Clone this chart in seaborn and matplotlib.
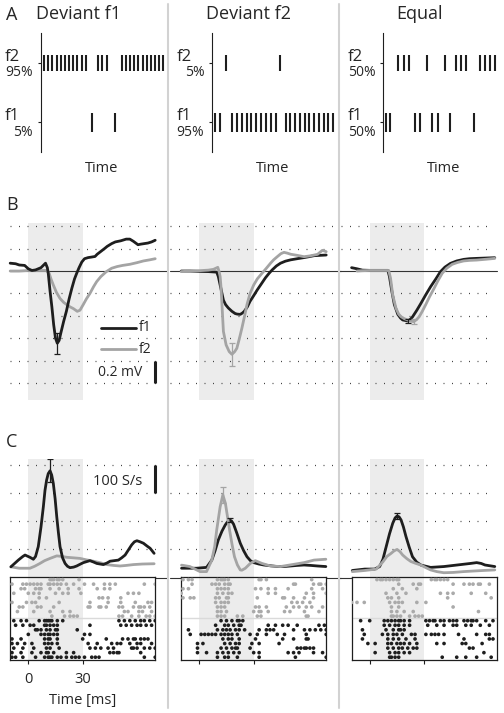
import matplotlib
matplotlib.use("Agg")
import matplotlib.pyplot as plt
import pandas as pd
import seaborn as sns

sns.set_style("white")
plt.rcParams['font.family'] = ['Open Sans', 'DejaVu Sans']

BLACK = '#1e1e1e'
GRAY = '#a4a4a4'
SHADE = '#ececec'

conditions = ['Deviant f1', 'Deviant f2', 'Equal']
f2_share = ['95%', '5%', '50%']
f1_share = ['5%', '95%', '50%']

# A: stimulus onsets in each sequence (arbitrary time units)
stim_f2 = [
    [3, 7, 11, 16, 20, 24, 28, 32, 36, 41, 45, 57, 61, 66,
     81, 85, 89, 93, 97, 102, 106, 110, 114, 118, 122],
    [14, 68],
    [15, 21, 26, 44, 62, 73, 78, 83, 97, 102, 107, 112],
]
stim_f1 = [
    [51, 74],
    [3, 8, 20, 25, 30, 35, 39, 44, 49, 54, 59, 64,
     74, 78, 83, 88, 93, 97, 102, 107, 112, 116, 121],
    [3, 7, 32, 37, 49, 55, 67, 91],
]

# B: evoked LFP, (time [ms], mV)
lfp_f1 = [
    [(-10, 0.07), (-7, 0.065), (-5, 0.054), (-2, 0.05), (0, 0.02), (2, 0.005), (4, 0.01),
     (7, 0.03), (9.5, 0.07), (10.5, 0.03), (11, -0.02), (12, -0.18), (13, -0.32), (14, -0.48),
     (15, -0.6), (16, -0.645), (17, -0.62), (18, -0.55), (19.5, -0.45), (21, -0.36),
     (22.5, -0.25), (24, -0.155), (25.5, -0.07), (26.7, -0.02), (28, 0.03), (29.5, 0.08),
     (31, 0.11), (33, 0.12), (35, 0.125), (36.8, 0.13), (38, 0.15), (40, 0.175), (42, 0.2),
     (43.5, 0.22), (46, 0.245), (48, 0.26), (51, 0.27), (54, 0.285), (56, 0.285),
     (58, 0.265), (60.5, 0.235), (62, 0.24), (64, 0.245), (66, 0.25), (68, 0.26), (70, 0.275)],
    [(-10, 0), (-5, 0), (0, -0.003), (5, -0.005), (9.6, -0.01), (10.5, -0.05), (11.5, -0.125),
     (12.5, -0.2), (13.3, -0.26), (14.5, -0.3), (16, -0.33), (18, -0.36), (19.8, -0.38),
     (21, -0.385), (22.6, -0.387), (23.8, -0.375), (24.8, -0.36), (26.5, -0.32), (28, -0.27),
     (30, -0.22), (31.9, -0.17), (34, -0.12), (36.5, -0.06), (38.5, -0.02), (40.2, 0.01),
     (42.5, 0.045), (44.8, 0.07), (47.5, 0.088), (50.4, 0.1), (54, 0.11), (57.8, 0.12),
     (60.5, 0.128), (63.3, 0.137), (66.5, 0.14), (70, 0.143)],
    [(-10, 0.03), (-7, 0.02), (-4, 0.008), (0, 0.006), (5, 0.006), (10, 0.006), (10.9, -0.05),
     (12.2, -0.18), (13.6, -0.3), (15.5, -0.387), (17, -0.42), (18.2, -0.437), (20.9, -0.446),
     (22.5, -0.43), (23.6, -0.41), (26, -0.35), (28.2, -0.29), (31, -0.21), (33.6, -0.14),
     (36.5, -0.07), (39, -0.006), (41.5, 0.035), (44.5, 0.068), (48, 0.09), (51.8, 0.104),
     (55, 0.11), (59, 0.113), (64, 0.116), (69, 0.119)],
]
lfp_f2 = [
    [(-10, 0), (-5, 0), (0, 0.005), (5, 0.005), (10, 0.005), (11.5, -0.02), (12.5, -0.07),
     (13.8, -0.125), (15.5, -0.19), (17.5, -0.245), (19.5, -0.28), (21.2, -0.3), (23, -0.32),
     (24.8, -0.335), (27, -0.36), (28.5, -0.35), (30.3, -0.3), (32, -0.25), (34, -0.2),
     (36, -0.14), (37.7, -0.095), (40, -0.05), (43, -0.006), (46, 0.025), (49, 0.04),
     (52, 0.05), (56, 0.06), (60, 0.075), (63.5, 0.09), (67, 0.1), (70, 0.11)],
    [(-10, -0.005), (-5, 0), (0, 0.003), (5, 0.008), (7.8, 0.015), (10.2, 0.033), (11, -0.01),
     (11.5, -0.05), (12, -0.15), (12.4, -0.27), (13.3, -0.54), (14.8, -0.66), (16.5, -0.72),
     (18, -0.744), (19.5, -0.72), (20.7, -0.69), (22, -0.61), (23.5, -0.51), (25, -0.4),
     (26.3, -0.3), (28, -0.2), (30, -0.125), (32, -0.07), (34.6, -0.02), (37, 0.025),
     (39.3, 0.07), (41, 0.1), (43, 0.128), (45, 0.155), (46.7, 0.167), (48.5, 0.16),
     (50.4, 0.15), (54, 0.14), (57.8, 0.128), (61, 0.135), (65.2, 0.149), (67.9, 0.185),
     (70, 0.173)],
    [(-7, 0), (-4, 0.003), (0, 0.005), (5, 0.005), (10.5, 0.005), (11.5, -0.065), (12.7, -0.214),
     (14.5, -0.333), (16, -0.385), (17.3, -0.408), (19, -0.425), (20.9, -0.437), (22.5, -0.447),
     (24.2, -0.452), (25.8, -0.435), (27.3, -0.408), (29, -0.36), (30.9, -0.3), (33, -0.23),
     (35.5, -0.155), (37.7, -0.085), (40, -0.02), (42.5, 0.025), (45.5, 0.06), (48.5, 0.077),
     (51.8, 0.09), (55, 0.095), (59, 0.098), (64, 0.105), (69, 0.113)],
]
lfp_sem_f1 = [0.095, None, 0.02]
lfp_sem_f2 = [None, 0.1, 0.02]

# C: firing rate, (time [ms], spikes/s)
rate_f1 = [
    [(-9.6, 38), (-5.5, 62), (-3, 75), (-1.8, 80), (0.9, 72), (2.8, 65), (4, 75), (5.5, 110),
     (7, 180), (8.3, 252), (9.2, 310), (10.1, 347), (11, 370), (12, 380), (12.9, 365),
     (13.8, 335), (14.8, 280), (15.7, 216), (16.6, 160), (17.5, 110), (18.9, 70), (20.3, 50),
     (21.6, 40), (23, 35), (25, 37), (26.7, 41), (28.5, 47), (30.4, 53), (34, 60), (36, 55),
     (37.8, 50), (41.4, 46), (43.5, 52), (45.1, 58), (49.7, 62), (51.5, 70), (53.4, 80),
     (55.2, 98), (57, 116), (58.5, 127), (59.9, 131), (61.7, 127), (63.5, 122), (65.3, 113),
     (67.2, 104), (69.4, 86)],
    [(-9.8, 33), (-1.5, 33), (4, 36), (6.9, 62), (8.7, 95), (10.5, 134), (12.5, 165),
     (14.3, 187), (15.5, 198), (16.7, 205), (17.8, 201), (18.9, 190), (20.7, 158), (22.6, 122),
     (24.5, 95), (26.3, 74), (28.2, 60), (30, 53), (32.8, 48), (35.6, 44.5), (39, 42), (43, 39),
     (46.7, 39), (50.4, 41), (54, 43), (57.8, 44.5), (61.5, 43), (65.2, 41), (69.8, 39)],
    [(-9.6, 25), (-2.7, 30), (2.7, 30), (5.5, 39), (7.3, 65), (9.1, 110), (10.9, 155),
     (12.7, 193), (14, 212), (15.1, 219), (16.2, 216), (17.3, 205), (18.6, 180), (20, 146),
     (21.8, 108), (23.6, 74), (25.9, 55), (28.2, 44.5), (33.6, 36), (40.9, 39), (48.2, 44.5),
     (55.5, 50), (59, 53), (61.5, 50), (63.6, 44.5), (69, 39)],
]
rate_f2 = [
    [(-9.6, 38), (-5, 33), (0.9, 33), (3.5, 40), (6.4, 50), (9, 60), (12, 68), (15.7, 77),
     (18.5, 75), (21.2, 72), (25, 70), (28.5, 68), (32, 63), (35.9, 58), (40, 52), (43.3, 46),
     (47, 43), (50.6, 41), (54, 43), (58, 46), (63, 48), (69.4, 49)],
    [(-9.8, 44), (-5.2, 39), (0.4, 21), (4, 21), (6.9, 62), (8.5, 110), (9.6, 169), (11.5, 252),
     (13, 294), (14.4, 264), (16.7, 169), (18, 120), (19.4, 74), (21, 45), (22.6, 27),
     (23.5, 26), (25.4, 33), (28.1, 50), (30.9, 60), (34.6, 50), (39.3, 41), (44.8, 39),
     (50.4, 45), (57.8, 53), (63.3, 62), (69.8, 65)],
    [(-9.6, 21), (-2.7, 25), (3.6, 30), (7.3, 56), (9.5, 75), (11.8, 86), (13.5, 95),
     (15.1, 100), (16.7, 92), (18.2, 80), (20.5, 67), (22.7, 57), (25.5, 50), (28.2, 44.5),
     (31, 35), (33.6, 27), (37, 21), (40.9, 17), (46, 18), (51.8, 21), (57, 23), (62.7, 25),
     (69, 27)],
]
rate_sem_f1 = [41, 6, 9]
rate_sem_f2 = [None, 30, None]

# C raster: spike times [ms], one list per trial, top trial first
spikes_f2 = [
    [[12, 13, 14, 16, 17, 19, 28],
     [-9, -3, -1, 1, 3, 5, 7, 11, 12, 14, 16, 18, 21, 25, 31, 36, 42, 45, 48, 64, 70],
     [-4, -2, 4, 6, 7, 12, 17, 22, 28, 38, 42, 45],
     [-8, 0, 3, 6, 15, 19, 22, 29, 55, 58, 61],
     [6, 10, 39, 41, 44, 51],
     [-9, -1, 2, 4, 17, 34, 44, 51, 59, 66, 68],
     [-5, -3, 5, 7, 14, 33, 34, 39, 40, 43, 50, 52, 58, 61, 62, 64, 67],
     [-6, 3, 12, 19, 23, 53, 55, 61, 63, 68],
     [13, 20, 23, 25, 27, 50, 52, 57, 61, 65, 67, 70]],
    [[-9, -6, -4, 10, 12, 13, 14, 16, 33, 34, 37, 62],
     [-4, 7, 9, 11, 14, 16, 17, 52, 53, 63, 66, 67, 70],
     [-9, -6, 10, 12, 14, 16, 31, 34, 38, 42, 49, 62, 68],
     [-10, 10, 13, 16, 18, 38, 42, 59, 63, 70],
     [-9, -5, -3, 9, 11, 15, 16, 32, 46, 47, 52, 58, 63],
     [9, 12, 14, 16, 51, 54, 57, 61],
     [10, 12, 14, 31, 33, 37, 48, 52, 55, 59, 62, 68],
     [10, 12, 15, 30, 33, 34, 38, 47, 50, 58, 66],
     [10, 12, 14, 21, 24, 32, 34, 59, 60]],
    [[4, 6, 7, 9, 11, 13, 15, 16, 34, 36, 37, 39, 41, 43],
     [16, 24, 27, 28, 46, 52, 55, 57, 60, 61, 66],
     [13, 18, 26],
     [9, 15, 20, 39, 43, 46, 56, 64],
     [10, 12, 16, 43, 67],
     [-10, -7, -3, 11, 14, 16, 18, 26, 31],
     [12, 16, 46],
     [12, 15, 19, 24, 60],
     [12, 13, 15, 17, 22, 25, 27, 29]],
]
spikes_f1 = [
    [[-8, -4, -1, 6, 9, 10, 11, 12, 13, 16, 19, 50, 53, 56, 59, 62, 64, 67, 70],
     [-7, -3, 1, 3, 9, 10, 12, 14, 16, 34, 51, 54, 57, 60, 62, 65, 68],
     [4, 5, 7, 10, 12, 15, 16, 27],
     [0, 7, 9, 11, 12, 14, 16, 31, 34],
     [-9, -4, 9, 11, 12, 16, 30, 43, 52, 55, 58, 59, 62, 64, 66],
     [-9, -6, -2, 2, 9, 11, 13, 16, 33, 38, 46, 49, 51, 56, 60, 62, 68],
     [-8, -3, 3, 10, 12, 17, 34, 37, 40, 44, 47, 57, 58, 60, 64, 67, 70],
     [-9, -4, 2, 7, 10, 11, 14, 21, 25, 45, 47, 49, 50, 62],
     [-9, -7, -3, 4, 9, 11, 12, 13, 16, 18, 21, 24, 26, 28, 31, 35, 37, 39, 64, 70]],
    [[12, 15, 18, 21, 22, 24],
     [9, 14, 16, 19, 22, 23, 38, 42, 46, 49, 54, 66, 69],
     [-6, 10, 13, 15, 17, 20, 22, 25, 33, 37, 39, 41, 52, 58, 61, 64, 67, 70],
     [-5, 1, 3, 5, 7, 9, 12, 14, 16, 18, 21, 28, 32, 37, 43, 47, 59, 70],
     [13, 16, 18, 22, 31, 46, 52, 59, 60],
     [-1, 2, 14, 17, 20, 22, 29, 33, 44],
     [-1, 12, 15, 18, 20, 21, 28, 54, 56, 58, 59, 61, 63],
     [-1, 4, 10, 13, 16, 19, 22, 30, 33, 49, 52, 55, 63, 68],
     [10, 14, 16, 21, 33, 53, 70]],
    [[-5, 0, 8, 10, 12, 14, 16, 17, 19, 22, 31, 33, 35, 36, 39, 41, 44, 46, 48, 52, 54, 56,
      57, 59, 64, 68],
     [8, 11, 14, 16, 19, 22, 32, 37, 41, 46, 48, 53, 56, 61, 66],
     [-4, 9, 13, 16, 17, 19],
     [-3, 7, 10, 13, 15, 18, 23, 25, 31, 34, 36, 38, 41, 49, 59, 64, 66],
     [-4, 10, 13, 16, 20, 25, 52, 66, 68],
     [-1, 3, 10, 12, 15, 17, 19, 22, 26, 37, 41, 51, 53, 62],
     [10, 13, 16, 18, 21, 24, 26, 55, 57],
     [3, 11, 14, 16, 19, 22, 63],
     [11, 12, 14, 16, 40, 48, 53, 59, 67]],
]

rows = []
for c, cond in enumerate(conditions):
    for i, times in enumerate(spikes_f2[c]):
        rows += [(cond, 'f2', t, 17 - i) for t in times]
    for i, times in enumerate(spikes_f1[c]):
        rows += [(cond, 'f1', t, 8 - i) for t in times]
raster = pd.DataFrame(rows, columns=['condition', 'tone', 'time', 'trial'])

W, H = 504, 713
fig = plt.figure(figsize=(W / 100, H / 100), dpi=100)


def place(x0, y0, x1, y1):
    return fig.add_axes([x0 / W, 1 - y1 / H, (x1 - x0) / W, (y1 - y0) / H])


def ftext(x, y, s, **kw):
    fig.text(x / W, 1 - y / H, s, **kw)


ms_px = 1.813
zero_px = [28.3, 199.3, 369.7]
axis_px = [41, 212.3, 383.3]
dot_span = [(-10, 74), (-16, 74), (-16, 66)]
base_span = [(-10, 77), (-16, 78), (-17, 70)]
dotted = dict(ls=(0, (0.8, 6)), color='#444444', lw=0.9, clip_on=False, zorder=1)


def draw_curve(ax, pts, color, sem, peak):
    t, v = zip(*pts)
    sns.lineplot(x=list(t), y=list(v), color=color, lw=2, ax=ax, zorder=3)
    if sem is not None:
        k = v.index(max(v) if peak else min(v))
        ax.errorbar(t[k], v[k], yerr=sem, color=color, lw=0.9, capsize=2.5,
                    capthick=0.9, zorder=4)


# separators between columns
for x in [168, 338.5]:
    fig.add_artist(plt.Line2D([x / W, x / W], [1 - 4 / H, 1 - 708 / H],
                              transform=fig.transFigure, color='#d2d2d2', lw=1.5))

# panel letters and titles
ftext(6, 15, 'A', fontsize=13, va='center')
ftext(6, 205, 'B', fontsize=13, va='center')
ftext(6, 442, 'C', fontsize=13, va='center')
for c, cond in enumerate(conditions):
    ftext([78, 248, 420][c], 14, cond, fontsize=13, ha='center', va='center')

for c, cond in enumerate(conditions):
    # A: stimulus sequence
    ax = place(axis_px[c], 33.3, axis_px[c] + 127, 151.7)
    ax.vlines(stim_f2[c], 2 - 0.14, 2 + 0.14, color=BLACK, lw=1.5)
    ax.vlines(stim_f1[c], 1 - 0.16, 1 + 0.16, color=BLACK, lw=1.5)
    ax.set_xlim(0, 127)
    ax.set_ylim(0.5, 2.5)
    sns.despine(ax=ax, bottom=True)
    ax.spines['left'].set_color(BLACK)
    ax.spines['left'].set_linewidth(0.8)
    ax.set_xticks([])
    ax.set_yticks([1, 2])
    ax.set_yticklabels([])
    ax.tick_params(axis='y', left=True, length=2, width=0.8, color=BLACK)
    ftext(axis_px[c] - 36, 57, 'f2', fontsize=12, va='center')
    ftext(axis_px[c] - 8, 73, f2_share[c], fontsize=10, ha='right', va='center')
    ftext(axis_px[c] - 36, 116, 'f1', fontsize=12, va='center')
    ftext(axis_px[c] - 8, 132, f1_share[c], fontsize=10, ha='right', va='center')
    ftext([102, 273, 444][c], 169, 'Time', fontsize=10.5, ha='center', va='center')

    z = zero_px[c]
    # B: LFP
    ax = place(z - 15 * ms_px, 223, z + 78 * ms_px, 400)
    ax.set_xlim(-15, 78)
    ax.set_ylim(-1.152, 0.429)
    ax.axis('off')
    ax.axvspan(0, 30, color=SHADE, lw=0, zorder=0)
    for g in [0.4, 0.2, -0.2, -0.4, -0.6, -0.8, -1.0]:
        ax.plot(dot_span[c], [g, g], **dotted)
    ax.plot(base_span[c], [0, 0], color='#333333', lw=0.8, clip_on=False, zorder=2)
    if c == 0:
        draw_curve(ax, lfp_f2[c], GRAY, lfp_sem_f2[c], False)
        draw_curve(ax, lfp_f1[c], BLACK, lfp_sem_f1[c], False)
        ax.plot([40, 59.5], [-0.506, -0.506], color=BLACK, lw=2)
        ax.plot([40, 59.5], [-0.70, -0.70], color=GRAY, lw=2)
        ax.text(61, -0.506, 'f1', fontsize=10, va='center')
        ax.text(61, -0.70, 'f2', fontsize=10, va='center')
        ax.plot([69.8, 69.8], [-1.0, -0.8], color=BLACK, lw=2.2, solid_capstyle='butt')
        ax.text(63, -0.905, '0.2 mV', fontsize=10, ha='right', va='center')
    else:
        draw_curve(ax, lfp_f1[c], BLACK, lfp_sem_f1[c], False)
        draw_curve(ax, lfp_f2[c], GRAY, lfp_sem_f2[c], False)

    # C: firing rate
    ax = place(z - 15 * ms_px, 459, z + 78 * ms_px, 577.5)
    ax.set_xlim(-15, 78)
    ax.set_ylim(0, 422)
    ax.axis('off')
    ax.axvspan(0, 30, color=SHADE, lw=0, zorder=0)
    for g in [100, 200, 300, 400]:
        ax.plot(dot_span[c], [g, g], **dotted)
    ax.plot(base_span[c], [0, 0], color='#333333', lw=0.8, clip_on=False, zorder=2)
    if c == 0:
        draw_curve(ax, rate_f2[c], GRAY, rate_sem_f2[c], True)
        draw_curve(ax, rate_f1[c], BLACK, rate_sem_f1[c], True)
        ax.plot([69.8, 69.8], [300, 400], color=BLACK, lw=2.2, solid_capstyle='butt')
        ax.text(63, 342, '100 S/s', fontsize=10.5, ha='right', va='center')
    else:
        draw_curve(ax, rate_f1[c], BLACK, rate_sem_f1[c], True)
        draw_curve(ax, rate_f2[c], GRAY, rate_sem_f2[c], True)

    # C: raster
    ax = place(z - 10 * ms_px, 577.3, z + 70 * ms_px, 659.5)
    ax.axvspan(0, 30, color=SHADE, lw=0, zorder=0)
    ax.axhline(8.5, color='#dadada', lw=1, zorder=1)
    sns.scatterplot(data=raster[raster['condition'] == cond], x='time', y='trial',
                    hue='tone', palette={'f1': BLACK, 'f2': '#aaaaaa'}, s=7,
                    linewidth=0, legend=False, ax=ax, zorder=3)
    ax.set_xlim(-10, 70)
    ax.set_ylim(-0.5, 17.5)
    for sp in ax.spines.values():
        sp.set_visible(True)
        sp.set_color(BLACK)
        sp.set_linewidth(0.9)
    ax.set_yticks([])
    ax.set_ylabel('')
    ax.set_xticks([0, 30])
    ax.tick_params(axis='x', bottom=True, length=3, width=0.8, color=BLACK,
                   labelsize=10.5, pad=6)
    if c == 0:
        ax.set_xticklabels(['0', '30'])
        ax.set_xlabel('Time [ms]', fontsize=10.5, labelpad=4)
    else:
        ax.set_xticklabels([])
        ax.set_xlabel('')

fig.savefig('out.png', dpi=100)
